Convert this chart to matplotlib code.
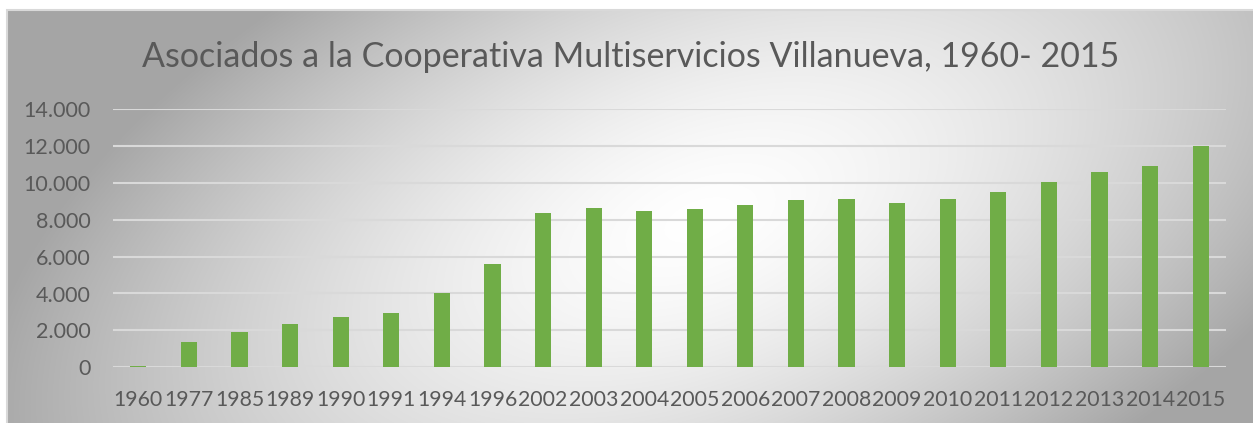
import numpy as np
import matplotlib.pyplot as plt
from matplotlib.ticker import FuncFormatter
from matplotlib.patches import Rectangle

years = ['1960', '1977', '1985', '1989', '1990', '1991', '1994', '1996', '2002', '2003', '2004',
         '2005', '2006', '2007', '2008', '2009', '2010', '2011', '2012', '2013', '2014', '2015']
socios = [90, 1350, 1900, 2330, 2710, 2930, 4030, 5580, 8360, 8650, 8470,
          8600, 8800, 9050, 9120, 8890, 9110, 9490, 10060, 10570, 10910, 11980]
yticks = [0, 2000, 4000, 6000, 8000, 10000, 12000, 14000]

plt.rcParams['font.family'] = ['Lato', 'DejaVu Sans']
W, H = 1253, 423
fig = plt.figure(figsize=(W / 100, H / 100), dpi=100)
fig.patch.set_facecolor('white')

# chart area background: grey radial gradient, white in the middle
x0, y0 = 7, 10
bg = fig.add_axes([x0 / W, 0, 1 - x0 / W, 1 - y0 / H], zorder=0)
xx, yy = np.meshgrid(np.arange(x0, W), np.arange(y0, H))
cx, cy = 700, 220
u = (xx - cx) + 0.7 * (yy - cy)
v = yy - cy
d = np.sqrt((u / 660.0) ** 2 + (v / 460.0) ** 2)
g = np.clip(1 - 0.36 * np.clip(d, 0, 1.2) ** 1.5, 0.65, 1)
bg.imshow(np.dstack([g, g, g]), aspect='auto', interpolation='bilinear')
bg.set_axis_off()
fig.patches.append(Rectangle((x0 / W, -0.01), 1, 1 - y0 / H + 0.01, transform=fig.transFigure,
                             fill=False, edgecolor='#d9d9d9', lw=1.5, zorder=1))

ax = fig.add_axes([113 / W, 1 - 367.3 / H, (1226 - 113) / W, (367.3 - 109) / H], zorder=2)
ax.patch.set_alpha(0)
x = np.arange(len(years))
ax.bar(x, socios, width=0.32, color='#70AD47', zorder=3)
ax.set_xlim(-0.5, len(years) - 0.5)
ax.set_ylim(0, 14000)
ax.set_yticks(yticks)
ax.yaxis.set_major_formatter(FuncFormatter(lambda v, p: f'{int(v):,}'.replace(',', '.')))
ax.set_xticks(x)
ax.set_xticklabels(years)
ax.grid(axis='y', color='#d9d9d9', lw=1.5, zorder=0)
for s in ax.spines.values():
    s.set_visible(False)
ax.tick_params(length=0, labelcolor='#595959')
ax.tick_params(axis='y', pad=16, labelsize=15.5)
ax.tick_params(axis='x', pad=16, labelsize=15.3)

fig.text(0.503, 1 - 57 / H, 'Asociados a la Cooperativa Multiservicios Villanueva, 1960- 2015',
         ha='center', va='center', fontsize=24.5, color='#595959')

fig.savefig('out.png', dpi=100)
